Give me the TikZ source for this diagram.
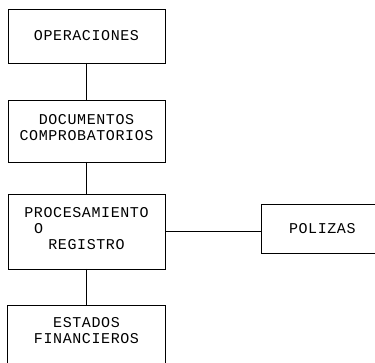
\documentclass[tikz,border=0pt]{standalone}
\usepackage{fontspec}
\newfontfamily\typefont[LetterSpace=4]{Liberation Mono}
\usepackage{tikz}
\usetikzlibrary{positioning}
\tikzstyle{base}=[x=1pt, y=-1pt, line width=0.8pt, inner sep=0pt, outer sep=0pt]
\tikzstyle{caja}=[draw=black, rectangle, align=center, font=\typefont\fontsize{15}{16}\selectfont]

\begin{document}
\begin{tikzpicture}[base]
    \path [use as bounding box] (0,0) rectangle (375,363);
    \clip (0,0) rectangle (375,363);
        \node [caja, minimum width=157pt, minimum height=54pt] (ops) at (86.5,36) {OPERACIONES};
        \node [caja, minimum width=157pt, minimum height=62pt, text depth=8pt] (docs) at (86.5,131) {DOCUMENTOS\\COMPROBATORIOS};
        \node [caja, minimum width=157pt, minimum height=75pt, text depth=7pt] (proc) at (86.5,231.5)
            {PROCESAMIENTO\\\makebox[7em][l]{O}\\REGISTRO};
        \node [caja, minimum width=158pt, minimum height=76pt, text depth=26pt] (est) at (86.5,343) {ESTADOS\\FINANCIEROS};
        \node [caja, anchor=west, inner xsep=28pt, minimum height=49pt] (pol) at (261,228.5) {POLIZAS};
        % conectores
        \draw (ops.south) -- (docs.north);
        \draw (docs.south) -- (proc.north);
        \draw (proc.south) -- (est.north);
        \draw (proc.east) -- (proc.east -| pol.west);
    \end{tikzpicture}
\end{document}
